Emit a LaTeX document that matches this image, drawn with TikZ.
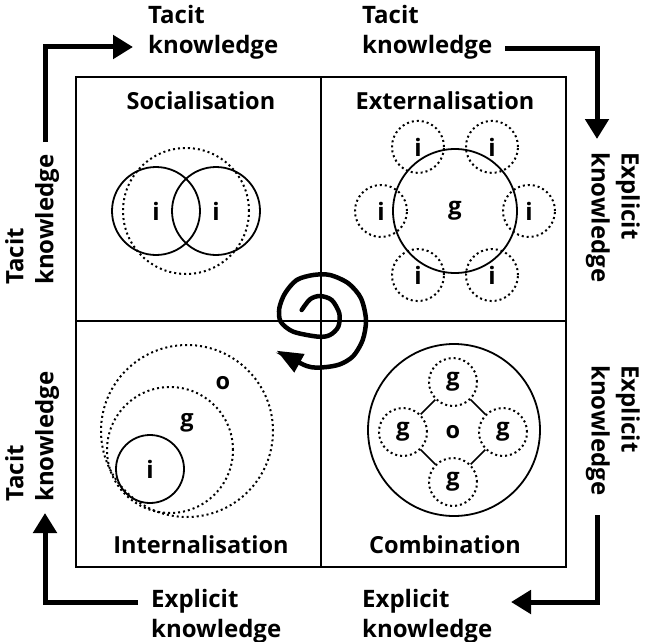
\documentclass[tikz,border=0pt]{standalone}
\usepackage{fontspec}
\setmainfont{Open Sans}
\usetikzlibrary{arrows.meta,positioning}

\begin{document}
\begin{tikzpicture}[x=1pt,y=-1pt]
\tikzstyle{txt}=[font=\fontsize{24}{30}\selectfont\bfseries, inner sep=0pt, align=left]
\tikzstyle{title}=[font=\fontsize{23.5}{30}\selectfont\bfseries, inner sep=0pt]
\tikzstyle{ring}=[circle, draw, line width=1.8pt, inner sep=0pt,
	font=\fontsize{24}{30}\selectfont\bfseries]
\tikzstyle{dotring}=[circle, draw, line width=2pt, dash pattern=on 2pt off 3pt,
	inner sep=0pt, font=\fontsize{24}{30}\selectfont\bfseries]
\tikzstyle{flow}=[line width=5pt, -{Triangle[length=20pt,width=23pt]}]
\tikzstyle{swirl}=[line width=4.5pt, line cap=round, -{Triangle[length=26pt,width=20pt]}]
\useasboundingbox (0,0) rectangle (645,642);

% quadrants
\draw[line width=1.8pt] (76,77) rectangle (566,567);
\draw[line width=1.8pt] (321,77) -- (321,567) (76,321) -- (566,321);

% socialisation
\node[title] (soc) at (201,101) {Socialisation};
\node[dotring, minimum size=126pt] (grp1) at (186,211) {};
\node[ring, minimum size=88pt] (i1) at (156,211) {i};
\node[ring, minimum size=88pt] (i2) at (216,211) {i};

% externalisation
\node[title] (ext) at (445,101) {Externalisation};
\node[ring, minimum size=124pt] (g2) at (455,211) {g};
\foreach \a in {0,60,...,300}
	\node[dotring, minimum size=52pt] (e\a) at ([shift={(\a:74)}]g2.center) {i};

% internalisation
\node[title] (int) at (201,545) {Internalisation};
\node[dotring, minimum size=172pt] (o3) at (187,431) {};
\node[dotring, minimum size=126pt] (g3) at (170,450) {};
\node[ring, minimum size=68pt] (i3) at (150,469) {i};
\node[title] (o3l) at (223,383) {o};
\node[title] (g3l) at (187,423) {g};

% combination
\node[title] (com) at (445,545) {Combination};
\node[ring, minimum size=172pt] (o4) at (454,430) {};
\node[title] (o) at (453,432) {o};
\tikzstyle{gring}=[dotring, minimum size=48pt, node distance=50pt]
\node[gring, above of = o] (gt) {g};
\node[gring, left of = o] (gl) {g};
\node[gring, right of = o] (gr) {g};
\node[gring, below of = o] (gb) {g};
\path[line width=1.5pt] (gt) edge (gl) ;
\path[line width=1.5pt] (gt) edge (gr) ;
\path[line width=1.5pt] (gb) edge (gl) ;
\path[line width=1.5pt] (gb) edge (gr) ;

% spiral
\draw[swirl] plot[smooth] coordinates {(301.7,310) (310,299.3) (320,296)
	(331.7,300) (339.3,313.3) (338.3,326.7) (330,335) (318.3,336.7)
	(293.3,331.7) (280.7,321.7) (279.3,308.3) (285,293.3) (296.7,280)
	(313.3,275) (330,275) (348.3,283.3) (361,298.3) (366,320) (362.7,340)
	(353.3,356) (340,364.3) (323.3,367.3) (306.7,366) (276.7,350.7)};

% outer labels
\node[txt, anchor=north west] (tl) at (148,5) {Tacit\\knowledge};
\node[txt, anchor=north west] (tr) at (362,5) {Tacit\\knowledge};
\node[txt, anchor=north west, rotate=-90] (rt) at (640,152) {Explicit\\knowledge};
\node[txt, anchor=north west, rotate=-90] (rb) at (640,365) {Explicit\\knowledge};
\node[txt, anchor=north west] (br) at (362,589) {Explicit\\knowledge};
\node[txt, anchor=north west] (bl) at (151,589) {Explicit\\knowledge};
\node[txt, anchor=north west, rotate=90] (lb) at (5,502) {Tacit\\knowledge};
\node[txt, anchor=north west, rotate=90] (lt) at (5,285) {Tacit\\knowledge};

% outer arrows
\coordinate (a1s) at (45,142);  \coordinate (a1e) at (133,47);
\coordinate (a2s) at (505,49);  \coordinate (a2e) at (597,139);
\coordinate (a3s) at (597,515); \coordinate (a3e) at (511,602);
\coordinate (a4s) at (138,602); \coordinate (a4e) at (45,513);
\draw[flow] (a1s) |- (a1e);
\draw[flow] (a2s) -| (a2e);
\draw[flow] (a3s) |- (a3e);
\draw[flow] (a4s) -| (a4e);

\end{tikzpicture}
\end{document}
